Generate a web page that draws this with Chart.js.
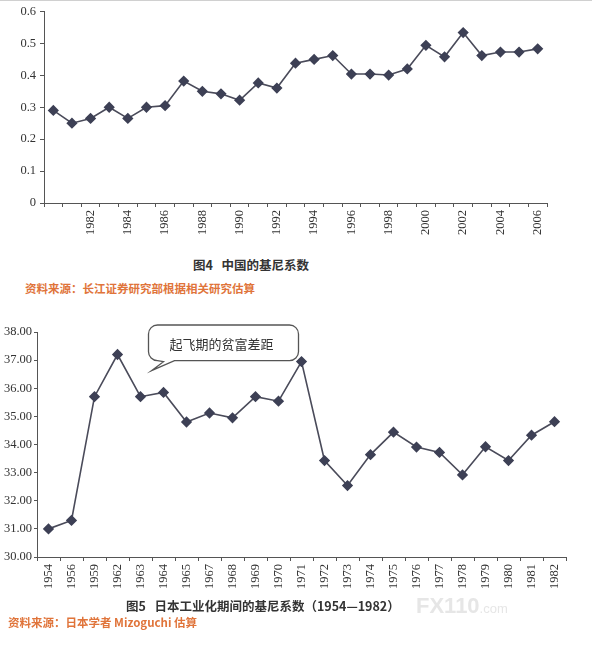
<!DOCTYPE html>
<html>
<head>
<meta charset="utf-8">
<script src="https://cdn.jsdelivr.net/npm/chart.js@4.4.1/dist/chart.umd.min.js"></script>
<style>
  body { margin: 0; background: #fff; width: 592px; height: 648px; position: relative; overflow: hidden; border-top: 1px solid #d0d0d0; box-sizing: border-box; }
  .box { position: absolute; left: 0; width: 592px; }
  .caption { position: absolute; font-family: "Noto Sans CJK SC", sans-serif; font-weight: bold; color: #333; font-size: 12.5px; white-space: nowrap; }
  .source { position: absolute; font-family: "Noto Sans CJK SC", sans-serif; color: #e0743a; font-size: 11.5px; white-space: nowrap; font-weight: bold; }
  .mark { position: absolute; font-family: "Liberation Sans", sans-serif; color: #e6e6e6; font-weight: bold; white-space: nowrap; }
</style>
</head>
<body>
<div class="box" style="top:-1px;height:240px"><canvas id="chinaChart" width="592" height="240"></canvas></div>
<div class="caption" style="left:193px;top:254px">图4&nbsp;&nbsp;&nbsp;中国的基尼系数</div>
<div class="source" style="left:25px;top:279px">资料来源：长江证券研究部根据相关研究估算</div>

<div class="box" style="top:309px;height:290px"><canvas id="japanChart" width="592" height="290"></canvas></div>
<div class="caption" style="left:126px;top:595px">图5&nbsp;&nbsp;&nbsp;日本工业化期间的基尼系数（1954—1982）</div>
<div class="source" style="left:8px;top:613px">资料来源：日本学者 Mizoguchi 估算</div>
<div class="mark" style="left:416px;top:592px;font-size:22px">FX110<span style="font-size:13px;font-weight:normal">.com</span></div>

<script>
// China Gini coefficient (fig. 4)
const chinaYears = ['1980','1981','1982','1983','1984','1985','1986','1987','1988','1989',
  '1990','1991','1992','1993','1994','1995','1996','1997','1998','1999',
  '2000','2001','2002','2003','2004','2005','2006'];
const chinaGini = [0.29, 0.25, 0.265, 0.30, 0.265, 0.30, 0.305, 0.382, 0.35, 0.342,
  0.322, 0.376, 0.36, 0.438, 0.45, 0.462, 0.404, 0.404, 0.401, 0.42,
  0.494, 0.458, 0.534, 0.462, 0.473, 0.473, 0.483];
const chinaTickLabels = ['1982','1984','1986','1988','1990','1992','1994','1996','1998','2000','2002','2004','2006'];

// Japan Gini coefficient during industrialisation (fig. 5)
const japanYears = ['1954','1956','1959','1962','1963','1964','1965','1967','1968','1969',
  '1970','1971','1972','1973','1974','1975','1976','1977','1978','1979',
  '1980','1981','1982'];
const japanGini = [31.0, 31.3, 35.7, 37.2, 35.7, 35.85, 34.8, 35.12, 34.95, 35.7,
  35.54, 36.95, 33.43, 32.54, 33.64, 34.44, 33.91, 33.72, 32.92, 33.92,
  33.43, 34.33, 34.81];

const bubbleText = '起飞期的贫富差距';

const tickFont = { family: '"Liberation Serif", serif', size: 12.5 };
const axisColor = '#555';
const lineColor = '#4a4b5a';
const markColor = '#3d4055';

function lineDataset(values) {
    return {
        data: values,
        borderColor: lineColor,
        borderWidth: 1.6,
        pointStyle: 'rectRot',
        pointRadius: 4.5,
        pointBackgroundColor: markColor,
        pointBorderColor: markColor,
        tension: 0,
        fill: false
    };
}

function xScale(height, labelFn) {
    return {
        type: 'category',
        offset: true,
        grid: { offset: true, drawOnChartArea: false, drawTicks: true, tickLength: 4, color: axisColor },
        border: { display: true, color: axisColor, width: 1 },
        ticks: {
            autoSkip: false, minRotation: 90, maxRotation: 90,
            color: '#333', font: tickFont, padding: 3,
            callback: labelFn
        },
        afterFit: (s) => { s.height = height; }
    };
}

// China chart
new Chart(document.getElementById('chinaChart'), {
    type: 'line',
    data: { labels: chinaYears, datasets: [lineDataset(chinaGini)] },
    options: {
        responsive: false,
        animation: false,
        devicePixelRatio: 1,
        layout: { padding: { top: 9, right: 45, left: 0, bottom: 0 } },
        plugins: { legend: { display: false }, tooltip: { enabled: false } },
        scales: {
            x: xScale(37, function (v) {
                const lab = chinaYears[v];
                return chinaTickLabels.includes(lab) ? lab : '';
            }),
            y: {
                min: 0, max: 0.6,
                grid: { drawOnChartArea: false, drawTicks: true, tickLength: 4, color: axisColor },
                border: { display: true, color: axisColor, width: 1 },
                ticks: { stepSize: 0.1, autoSkip: false, color: '#333', font: tickFont, padding: 4,
                    callback: (v) => v === 0 ? '0' : v.toFixed(1) },
                afterFit: (s) => { s.width = 44; }
            }
        }
    }
});

// speech bubble on the Japan chart
const bubblePlugin = {
    id: 'bubble',
    afterDatasetsDraw(chart) {
        const ctx = chart.ctx;
        const xs = chart.scales.x, ys = chart.scales.y;
        const x0 = xs.getPixelForValue(4) + 8;
        const x1 = xs.getPixelForValue(11) - 3;
        const y0 = chart.chartArea.top - 7;
        const y1 = ys.getPixelForValue(36.98);
        const r = 9;
        ctx.save();
        ctx.beginPath();
        ctx.moveTo(x0 + r, y0);
        ctx.lineTo(x1 - r, y0);
        ctx.arcTo(x1, y0, x1, y0 + r, r);
        ctx.lineTo(x1, y1 - r);
        ctx.arcTo(x1, y1, x1 - r, y1, r);
        ctx.lineTo(x0 + 26, y1);
        ctx.lineTo(x0 + 3, y1 + 10);
        ctx.lineTo(x0 + 15, y1 + 1);
        ctx.lineTo(x0 + r, y1);
        ctx.arcTo(x0, y1, x0, y1 - r, r);
        ctx.lineTo(x0, y0 + r);
        ctx.arcTo(x0, y0, x0 + r, y0, r);
        ctx.closePath();
        ctx.fillStyle = '#fff';
        ctx.fill();
        ctx.strokeStyle = '#555';
        ctx.lineWidth = 1.3;
        ctx.stroke();
        ctx.fillStyle = '#333';
        ctx.font = '13px "Noto Sans CJK SC", sans-serif';
        ctx.textAlign = 'center';
        ctx.textBaseline = 'middle';
        ctx.fillText(bubbleText, (x0 + x1) / 2 - 2, (y0 + y1) / 2 + 1);
        ctx.restore();
    }
};

new Chart(document.getElementById('japanChart'), {
    type: 'line',
    data: { labels: japanYears, datasets: [lineDataset(japanGini)] },
    options: {
        responsive: false,
        animation: false,
        devicePixelRatio: 1,
        layout: { padding: { top: 22, right: 26, left: 0, bottom: 0 } },
        plugins: { legend: { display: false }, tooltip: { enabled: false } },
        scales: {
            x: xScale(43, function (v) { return japanYears[v]; }),
            y: {
                min: 30, max: 38,
                grid: { drawOnChartArea: false, drawTicks: true, tickLength: 3, color: axisColor },
                border: { display: true, color: axisColor, width: 1 },
                ticks: { stepSize: 1, autoSkip: false, color: '#333', font: tickFont, padding: 2,
                    callback: (v) => v.toFixed(2) },
                afterFit: (s) => { s.width = 37; }
            }
        }
    },
    plugins: [bubblePlugin]
});
</script>
</body>
</html>
